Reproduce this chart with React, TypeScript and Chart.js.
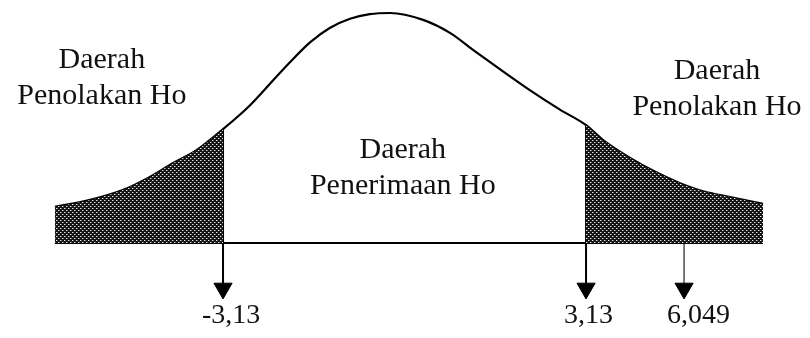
import { useEffect, useRef } from "react";
import { Chart, registerables, LinearScale } from "chart.js";

// Sampled heights of the t-distribution sketch (t value, density)
const curveT = [
  -6.03, -5.42, -4.86, -4.39, -3.99, -3.58, -3.13, -2.84, -2.66, -2.32, -1.98,
  -1.63, -1.29, -0.94, -0.6, -0.25, 0.32, 0.79, 1.18, 1.65, 2.16, 2.68, 3.13,
  3.64, 4.44, 5.25, 5.93, 6.62, 7.42, 8.4,
];
const curveY = [
  0.063, 0.075, 0.092, 0.115, 0.139, 0.162, 0.198, 0.223, 0.24, 0.277, 0.314,
  0.349, 0.374, 0.39, 0.398, 0.4, 0.388, 0.365, 0.336, 0.302, 0.266, 0.232,
  0.205, 0.179, 0.148, 0.122, 0.104, 0.09, 0.08, 0.068,
];

// Critical values of t and the computed statistic
const criticalValues = [-3.13, 3.13];
const tStatistic = 6.049;
const criticalLabels = ["-3,13", "3,13"];
const statisticLabel = "6,049";

// Region captions
const leftRegion = ["Daerah", "Penolakan Ho"];
const middleRegion = ["Daerah", "Penerimaan Ho"];
const rightRegion = ["Daerah", "Penolakan Ho"];

// Axis beyond the upper critical value is drawn compressed
const TAIL_BREAK = 3.13;
const TAIL_SQUEEZE = 0.579;

const warp = (v: number) =>
  v <= TAIL_BREAK ? v : TAIL_BREAK + (v - TAIL_BREAK) * TAIL_SQUEEZE;
const unwarp = (u: number) =>
  u <= TAIL_BREAK ? u : TAIL_BREAK + (u - TAIL_BREAK) / TAIL_SQUEEZE;

class SqueezedScale extends LinearScale {
  static id = "squeezed";
  static defaults = LinearScale.defaults;

  getPixelForValue(value: number) {
    if (value === null || value === undefined || isNaN(value)) return NaN;
    const a = warp(this.min);
    const b = warp(this.max);
    return this.getPixelForDecimal((warp(value) - a) / (b - a));
  }

  getValueForPixel(pixel: number) {
    const a = warp(this.min);
    const b = warp(this.max);
    return unwarp(a + this.getDecimalForPixel(pixel) * (b - a));
  }
}

Chart.register(...registerables, SqueezedScale);

const ARROW_Y = -0.079;
const NUMBER_Y = -0.139;

const heightAt = (t: number) => curveY[curveT.indexOf(t)];

function makeHatch(): CanvasPattern | string {
  const tile = document.createElement("canvas");
  tile.width = 4;
  tile.height = 4;
  const c = tile.getContext("2d");
  if (!c) return "#333";
  c.fillStyle = "#151515";
  c.fillRect(0, 0, 4, 4);
  c.fillStyle = "#e8e8e8";
  c.fillRect(0, 0, 1, 1);
  c.fillRect(2, 2, 1, 1);
  c.fillStyle = "#6a6a6a";
  c.fillRect(1, 0, 1, 1);
  c.fillRect(3, 2, 1, 1);
  const p = c.createPattern(tile, "repeat");
  return p || "#333";
}

const captionPlugin = {
  id: "captions",
  afterDatasetsDraw(chart: any) {
    const { ctx, scales } = chart;
    const xs = scales.x;
    const ys = scales.y;
    ctx.save();
    ctx.fillStyle = "#111";
    ctx.textBaseline = "alphabetic";

    // region captions (centre t, baseline of first line)
    const blocks: [string[], number, number][] = [
      [leftRegion, -5.22, 0.304],
      [middleRegion, -0.03, 0.148],
      [rightRegion, 7.03, 0.285],
    ];
    ctx.font = "30px 'Liberation Serif', 'Times New Roman', serif";
    ctx.textAlign = "center";
    for (const [lines, t, y] of blocks) {
      const px = xs.getPixelForValue(t);
      const py = ys.getPixelForValue(y);
      lines.forEach((line, i) => ctx.fillText(line, px, py + i * 36));
    }

    // values under the arrows
    ctx.font = "28px 'Liberation Serif', 'Times New Roman', serif";
    ctx.textAlign = "left";
    const marks: [string, number, number][] = [
      [criticalLabels[0], criticalValues[0], -21],
      [criticalLabels[1], criticalValues[1], -22],
      [statisticLabel, tStatistic, -17],
    ];
    for (const [text, t, dx] of marks) {
      ctx.fillText(text, xs.getPixelForValue(t) + dx, ys.getPixelForValue(NUMBER_Y));
    }
    ctx.restore();
  },
};

export default function App() {
  const canvasRef = useRef<HTMLCanvasElement | null>(null);

  useEffect(() => {
    const canvas = canvasRef.current;
    if (!canvas) return;
    const hatch = makeHatch();

    const curve = curveT.map((t, i) => ({ x: t, y: curveY[i] }));
    const leftTail = curve.filter((p) => p.x <= criticalValues[0]);
    const rightTail = curve.filter((p) => p.x >= criticalValues[1]);

    const arrow = (t: number, top: number, width: number, color: string) => ({
      data: [
        { x: t, y: top },
        { x: t, y: ARROW_Y },
      ],
      borderColor: color,
      borderWidth: width,
      pointRadius: [0, 10.5],
      pointStyle: "triangle",
      pointRotation: 180,
      pointBackgroundColor: "#000",
      pointBorderColor: "#000",
      pointBorderWidth: 1,
      fill: false,
      tension: 0,
    });

    const chart = new Chart(canvas, {
      type: "line",
      data: {
        datasets: [
          {
            data: leftTail,
            borderWidth: 0,
            backgroundColor: hatch,
            fill: "origin",
            pointRadius: 0,
            cubicInterpolationMode: "monotone",
          },
          {
            data: rightTail,
            borderWidth: 0,
            backgroundColor: hatch,
            fill: "origin",
            pointRadius: 0,
            cubicInterpolationMode: "monotone",
          },
          {
            data: curve,
            borderColor: "#000",
            borderWidth: 2.2,
            pointRadius: 0,
            fill: false,
            cubicInterpolationMode: "monotone",
          },
          {
            data: [
              { x: curveT[0], y: 0 },
              { x: curveT[curveT.length - 1], y: 0 },
            ],
            borderColor: "#000",
            borderWidth: 2,
            pointRadius: 0,
            fill: false,
          },
          arrow(criticalValues[0], heightAt(criticalValues[0]), 2, "#000"),
          arrow(criticalValues[1], heightAt(criticalValues[1]), 2, "#000"),
          arrow(tStatistic, 0, 1.3, "#333"),
        ] as any,
      },
      options: {
        animation: false,
        responsive: false,
        events: [],
        layout: { padding: 0, autoPadding: false },
        plugins: {
          legend: { display: false },
          tooltip: { enabled: false },
        },
        scales: {
          x: {
            type: "squeezed" as any,
            min: -6.976,
            max: 9.8,
            display: false,
          },
          y: {
            type: "linear",
            min: -0.1652,
            max: 0.4226,
            display: false,
          },
        },
      },
      plugins: [captionPlugin],
    });

    return () => chart.destroy();
  }, []);

  return (
    <div
      style={{
        position: "fixed",
        left: 0,
        top: 0,
        width: 810,
        height: 338,
        background: "#fff",
      }}
    >
      <canvas ref={canvasRef} width={810} height={338} />
    </div>
  );
}
